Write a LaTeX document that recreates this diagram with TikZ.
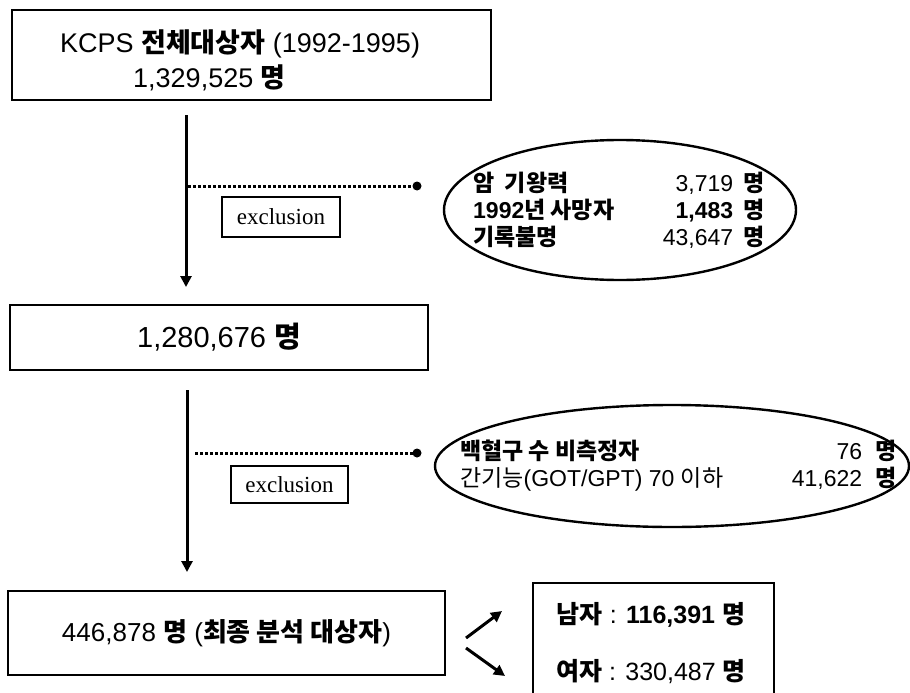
\documentclass[tikz,border=0pt]{standalone}
\usepackage{fontspec}
\setmainfont{Liberation Sans}
\newfontfamily\kr{Noto Sans CJK KR}
\newfontfamily\sr{Liberation Serif}
\usetikzlibrary{arrows.meta,shapes.geometric}
\newcommand\K[1]{{\kr #1}}
\newcommand\KB[1]{{\kr\bfseries #1}}
\newcommand\fs[2]{\fontsize{#1}{#2}\selectfont}
\begin{document}
\begin{tikzpicture}[x=1pt,y=-1pt,
 mainbox/.style={draw,line width=2.6pt,inner sep=0pt},
 exbox/.style={draw,line width=1.8pt,inner sep=0pt,font=\sr\fs{23}{23}},
 oval/.style={draw,ellipse,line width=2.4pt,inner sep=0pt},
 flow/.style={line width=3pt,-{Triangle[length=11pt,width=11pt]}},
 dotline/.style={line width=3pt,dash pattern=on 2.5pt off 2.5pt},
 enddot/.style={circle,fill,inner sep=0pt,minimum size=9pt},
 txt/.style={inner sep=0pt}]
\path[use as bounding box] (0,0) rectangle (910,693);

% boxes
\node[mainbox,minimum width=479pt,minimum height=90pt] (b1) at (251.5,55) {};
\node[txt,anchor=west,align=left,font=\fs{27}{35}] (b1t) at (60,60)
 {KCPS \KB{전체대상자} (1992-1995)\\\hspace*{73pt}1,329,525 \KB{명}};
\node[mainbox,minimum width=418pt,minimum height=65pt] (b2) at (219,337.5) {};
\node[txt,font=\fs{29}{29}] (b2t) at (219,337) {1,280,676 \KB{명}};
\node[mainbox,minimum width=437pt,minimum height=84pt] (b3) at (226.5,633) {};
\node[txt,font=\fs{26}{26}] (b3t) at (226.5,633) {446,878 \KB{명} (\KB{최종 분석 대상자})};

% vertical arrows
\coordinate (a1s) at (186,115);
\coordinate (a1e) at (186,287);
\draw[flow] (a1s) -- (a1e);
\coordinate (a2s) at (187,390);
\coordinate (a2e) at (187,572);
\draw[flow] (a2s) -- (a2e);

% exclusion lines
\coordinate (d1s) at (188,186);
\node[enddot] (dot1) at (417,186) {};
\draw[dotline] (d1s) -- (dot1.center);
\coordinate (d2s) at (195,453);
\node[enddot] (dot2) at (417,453) {};
\draw[dotline] (d2s) -- (dot2.center);

\node[exbox,minimum width=118pt,minimum height=40pt] (ex1) at (281,217) {exclusion};
\node[exbox,minimum width=117pt,minimum height=37pt] (ex2) at (289.5,484.5) {exclusion};

% ellipses
\node[oval,minimum width=352pt,minimum height=140pt] (e1) at (620,210) {};
\node[txt,anchor=west,align=left,font=\fs{23}{27}] (e1t) at (473,210)
 {\makebox[0pt][l]{\KB{암 \ 기왕력}}\makebox[260pt][r]{3,719}\hspace{10pt}\KB{명}\\
  \makebox[0pt][l]{\textbf{1992}\KB{년 사망자}}\makebox[260pt][r]{\textbf{1,483}}\hspace{10pt}\KB{명}\\
  \makebox[0pt][l]{\KB{기록불명}}\makebox[260pt][r]{43,647}\hspace{10pt}\KB{명}};
\node[oval,minimum width=474pt,minimum height=122pt] (e2) at (672,466) {};
\node[txt,anchor=west,align=left,font=\fs{23}{27}] (e2t) at (460,466)
 {\makebox[0pt][l]{\KB{백혈구 수 비측정자}}\makebox[402pt][r]{76}\hspace{13pt}\KB{명}\\
  \makebox[0pt][l]{\K{간기능}(GOT/GPT) 70 \K{이하}}\makebox[402pt][r]{41,622}\hspace{13pt}\KB{명}};

% result box
\draw[line width=2.6pt] (533,694) -- (533,583) -- (774,583) -- (774,694);
\node[txt,font=\fs{25}{25}] (mt) at (651,615) {\KB{남자} : \textbf{116,391} \KB{명}};
\node[txt,font=\fs{25}{25}] (ft) at (651,672) {\KB{여자} : 330,487 \KB{명}};

% split arrows
\coordinate (s1) at (466,638);
\coordinate (s1e) at (502,611);
\coordinate (s2) at (466,648);
\coordinate (s2e) at (505,676);
\draw[flow] (s1) -- (s1e);
\draw[flow] (s2) -- (s2e);
\end{tikzpicture}
\end{document}
